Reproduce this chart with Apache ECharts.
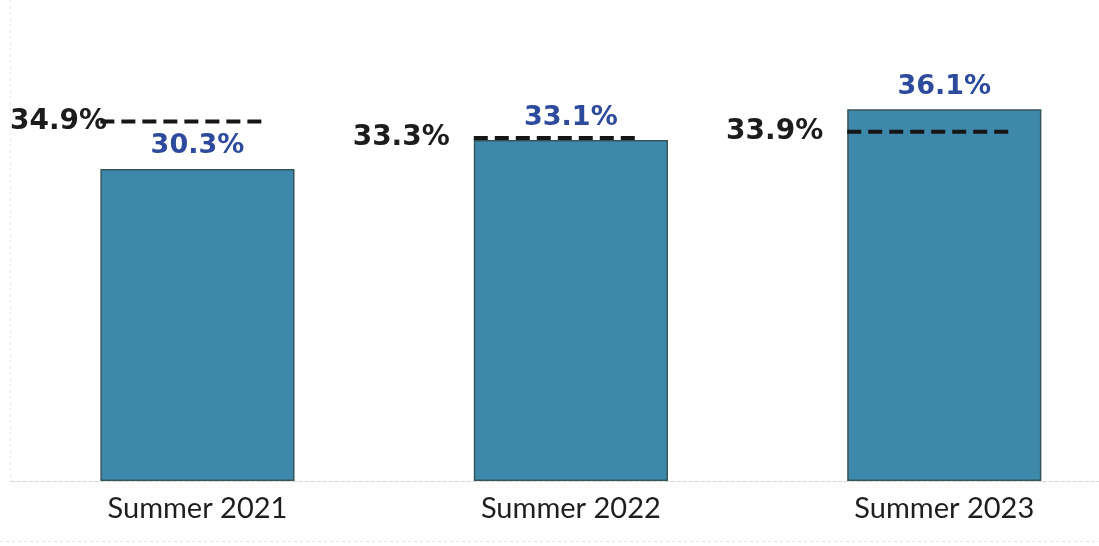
<!DOCTYPE html>
<html>
<head>
<meta charset="utf-8">
<script src="https://cdn.jsdelivr.net/npm/echarts@6/dist/echarts.min.js"></script>
<style>
html,body{margin:0;padding:0;background:#fff;}
#chart{width:1099px;height:546px;}
</style>
</head>
<body>
<div id="chart"></div>
<script>
var categories = ['Summer 2021', 'Summer 2022', 'Summer 2023'];
var barValues = [30.3, 33.1, 36.1];
var refValues = [34.9, 33.3, 33.9];

var chart = echarts.init(document.getElementById('chart'));
var CAT_FONT = 'Lato';
var NUM_FONT = 'DejaVu Sans';
var REF_FONT_SIZE = 28;

var measureCtx = document.createElement('canvas').getContext('2d');
function textWidth(t, font) { measureCtx.font = font; return measureCtx.measureText(t).width; }

var option = {
  animation: false,
  backgroundColor: '#ffffff',
  grid: { left: 10.75, right: -32, top: 69, bottom: 65, outerBoundsMode: 'none', containLabel: false },
  xAxis: {
    type: 'category',
    data: categories,
    axisTick: { show: false },
    axisLine: { show: true, lineStyle: { color: '#d6d6d6', type: 'dashed', width: 1 } },
    axisLabel: { color: '#1e1e1e', fontFamily: CAT_FONT, fontSize: 29, margin: 13 }
  },
  yAxis: { type: 'value', min: 0, max: 40, show: false },
  graphic: [
    { type: 'line', shape: { x1: 10.5, y1: 0, x2: 10.5, y2: 481 }, style: { stroke: '#ececec', lineWidth: 1, lineDash: [3, 3] }, silent: true },
    { type: 'line', shape: { x1: 0, y1: 541.5, x2: 1099, y2: 541.5 }, style: { stroke: '#e4e4e4', lineWidth: 1, lineDash: [3, 3] }, silent: true }
  ],
  series: [
    {
      type: 'bar',
      data: barValues,
      barWidth: '52%',
      itemStyle: { color: '#3e89ab', borderColor: '#34565a', borderWidth: 1.5 },
      label: {
        show: true, position: 'top', distance: 9,
        formatter: function (p) { return p.value.toFixed(1) + '%'; },
        color: '#2d4a9c', fontFamily: NUM_FONT, fontWeight: 'bold', fontSize: 27
      }
    },
    {
      type: 'custom',
      data: refValues.map(function (v, i) { return [i, v]; }),
      z: 5,
      renderItem: function (params, api) {
        var idx = api.value(0), v = api.value(1);
        var c = api.coord([idx, v]);
        var bw = api.size([1, 0])[0] * 0.52;
        var x0 = c[0] - bw / 2;
        var x1 = x0 + bw * 0.85;
        var txt = v.toFixed(1) + '%';
        var w = textWidth(txt, 'bold ' + REF_FONT_SIZE + 'px "' + NUM_FONT + '"');
        var tx = Math.max(x0 - 24, 10 + w);
        return {
          type: 'group',
          children: [
            { type: 'line', shape: { x1: x0, y1: c[1], x2: x1, y2: c[1] },
              style: { stroke: '#161616', lineWidth: 4, lineDash: [14, 7] } },
            { type: 'text', x: tx, y: c[1],
              style: { text: txt, align: 'right', verticalAlign: 'middle',
                       fill: '#1c1c1c', fontFamily: NUM_FONT, fontWeight: 'bold', fontSize: REF_FONT_SIZE } }
          ]
        };
      }
    }
  ]
};
chart.setOption(option);
</script>
</body>
</html>
